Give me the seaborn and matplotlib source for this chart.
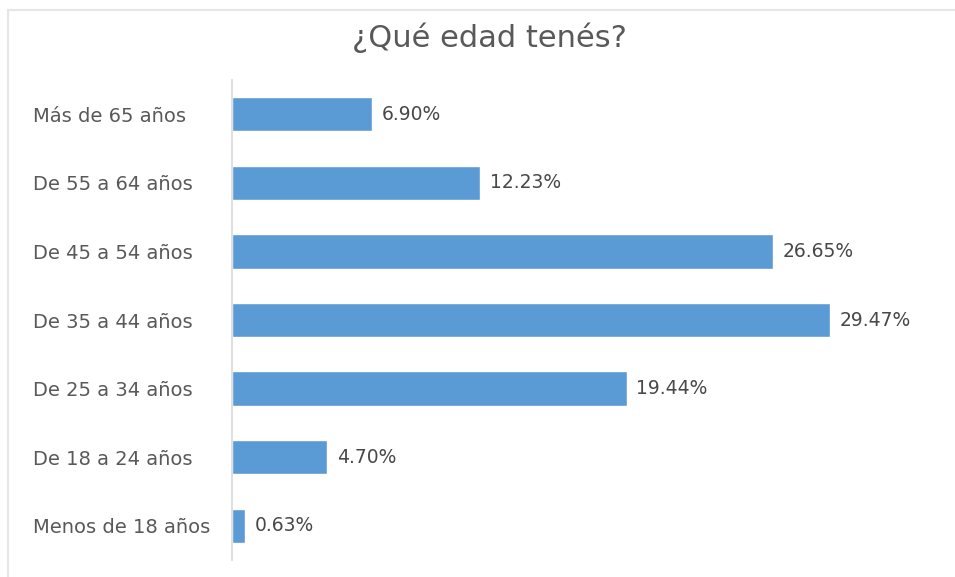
"""Gráfico de barras horizontales: distribución por edad."""
import matplotlib
matplotlib.use("Agg")
import matplotlib.pyplot as plt
import pandas as pd
import seaborn as sns

# datos
categorias = [
    "Más de 65 años",
    "De 55 a 64 años",
    "De 45 a 54 años",
    "De 35 a 44 años",
    "De 25 a 34 años",
    "De 18 a 24 años",
    "Menos de 18 años",
]
porcentajes = [6.90, 12.23, 26.65, 29.47, 19.44, 4.70, 0.63]
titulo = "¿Qué edad tenés?"

COLOR_BARRA = "#5B9BD5"
COLOR_TEXTO = "#595959"

sns.set_theme(style="white")
plt.rcParams["font.family"] = ["DejaVu Sans"]

df = pd.DataFrame({"edad": categorias, "pct": porcentajes})

fig = plt.figure(figsize=(9.55, 5.77), dpi=100)
ax = fig.add_axes([232 / 955, 1 - 560 / 577, (902 - 232) / 955, 480 / 577])

sns.barplot(data=df, x="pct", y="edad", order=categorias, color=COLOR_BARRA,
            width=0.5, saturation=1, ax=ax)

ax.set_xlim(0, 33)
ax.set_ylim(6.5, -0.5)
ax.set_xlabel("")
ax.set_ylabel("")
ax.set_xticks([])

for s in ["top", "right", "bottom"]:
    ax.spines[s].set_visible(False)
ax.spines["left"].set_color("#d9d9d9")
ax.spines["left"].set_linewidth(1.2)

ax.tick_params(axis="y", length=0, pad=143, labelsize=14, labelcolor=COLOR_TEXTO)
for lbl in ax.get_yticklabels():
    lbl.set_horizontalalignment("left")

ax.bar_label(ax.containers[0], labels=[f"{v:.2f}%" for v in porcentajes],
             padding=7, fontsize=13.5, color="#484848")

fig.text(489 / 955, 1 - 38 / 577, titulo, ha="center", va="center",
         fontsize=22, color=COLOR_TEXTO)

# marco gris claro del área del gráfico
borde = plt.Rectangle((8 / 955, -0.05), 1.2, 1 - 10 / 577 + 0.05, transform=fig.transFigure,
                      fill=False, edgecolor="#e6e6e6", linewidth=1.5)
fig.add_artist(borde)

fig.savefig("out.png", dpi=100)
